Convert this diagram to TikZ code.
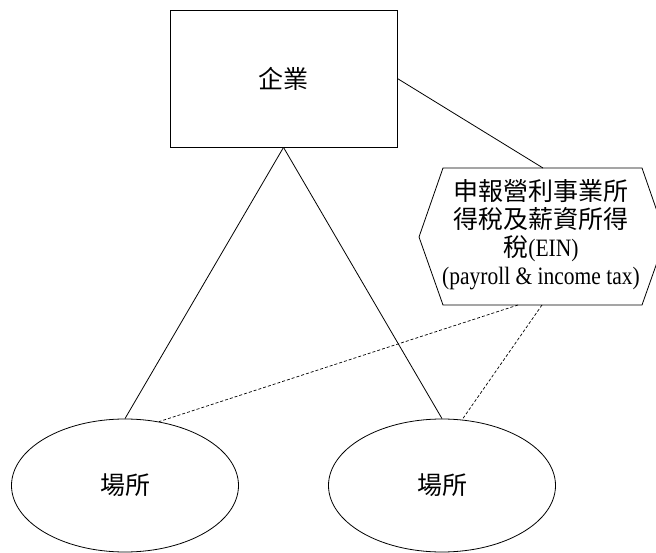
\documentclass[tikz,border=0pt]{standalone}
\usepackage{fontspec}
\setmainfont[FakeStretch=0.86]{Liberation Serif}
\newfontfamily\cjk{Noto Sans CJK TC}
\usetikzlibrary{shapes.geometric}
\tikzset{
  line/.style={draw=black, line width=0.8pt},
  dline/.style={draw=black, line width=0.7pt, dash pattern=on 3pt off 2pt},
  boxnode/.style={line, rectangle, minimum width=227pt, minimum height=137pt, inner sep=0pt},
  sitenode/.style={line, ellipse, minimum width=227pt, minimum height=133pt, inner sep=0pt},
  cjktext/.style={font=\cjk\fontsize{25pt}{29pt}\selectfont},
}
\begin{document}
\begin{tikzpicture}[x=1pt, y=-1pt]
\useasboundingbox (0,0) rectangle (656,553);
\node[boxnode, cjktext] (firm) at (283.5,78.5) {企業};
\node[sitenode, cjktext] (siteA) at (125,485.5) {場所};
\node[sitenode, cjktext] (siteB) at (442,485.5) {場所};
% hexagon
\coordinate (hTL) at (443,168);
\coordinate (hTR) at (642,168);
\coordinate (hR) at (666,237);
\coordinate (hBR) at (642,305);
\coordinate (hBL) at (443,305);
\coordinate (hL) at (419,237);
\draw[line] (hTL) -- (hTR) -- (hR) -- (hBR) -- (hBL) -- (hL) -- cycle;
\node[align=center, inner sep=0pt, font=\fontsize{25pt}{28pt}\selectfont] (tax) at (541,235)
  {{\cjk 申報營利事業所}\\
   {\cjk 得稅及薪資所得}\\
   {\cjk 稅}(EIN)\\
   (payroll \& income tax)};
\coordinate (taxTop) at (543,168);
\coordinate (taxB1) at (518,305);
\coordinate (taxB2) at (542,305);
\draw[line] (firm.east) -- (taxTop);
\draw[line] (firm.south) -- (siteA.north);
\draw[line] (firm.south) -- (siteB.north);
\draw[dline] (taxB1) -- (siteA.62);
\draw[dline] (taxB2) -- (siteB.73);
\end{tikzpicture}
\end{document}
